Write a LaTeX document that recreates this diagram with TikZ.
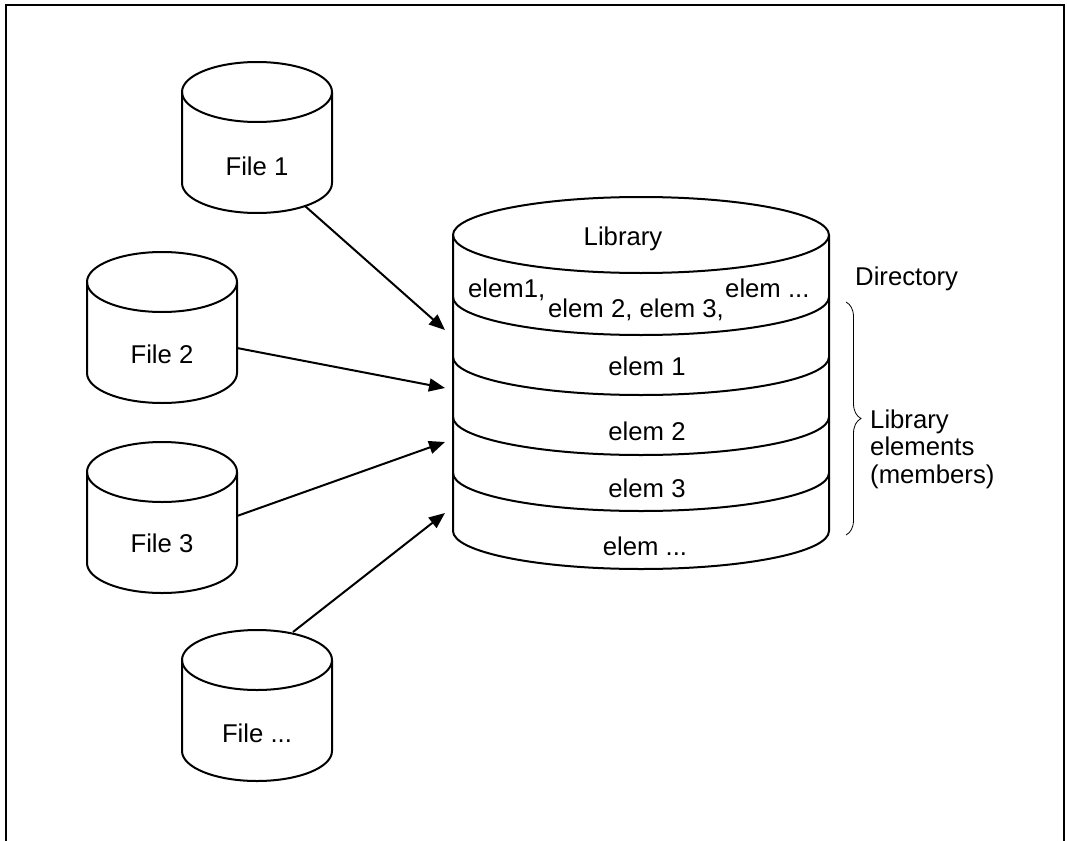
\documentclass[tikz,border=0pt]{standalone}
\usepackage{fontspec}
\setmainfont{Liberation Sans}
\usetikzlibrary{arrows.meta,decorations.pathreplacing}

\begin{document}
\begin{tikzpicture}[x=1pt,y=-1pt,
  outline/.style={line width=2pt, line join=round},
  link/.style={line width=2pt, -{Triangle[length=16pt,width=13pt]}},
  lbl/.style={font=\fontsize{25.7}{27.5}\selectfont, inner sep=0pt},
  % a small disk: top ellipse centred on the pic origin
  pics/disk/.style={code={
    \draw[outline] (-75,0) -- (-75,91)
      arc[start angle=180,end angle=0,x radius=75,y radius=30] -- (75,0);
    \draw[outline] (0,0) ellipse[x radius=75,y radius=30];
  }}]

\useasboundingbox (0,0) rectangle (1067,840);

% frame
\draw[line width=2pt] (5.5,845) -- (5.5,5.5) -- (1063.5,5.5) -- (1063.5,845);

% input files
\pic at (257,92)  {disk};
\pic at (162,282) {disk};
\pic at (162,472) {disk};
\pic at (257,660) {disk};
\node[lbl, anchor=base] (file1) at (257,175) {File 1};
\node[lbl, anchor=base] (file2) at (162,363) {File 2};
\node[lbl, anchor=base] (file3) at (162,552) {File 3};
\node[lbl, anchor=base] (filen) at (257,742) {File ...};

% library cylinder with its bands
\draw[outline] (453,235) -- (453,531)
  arc[start angle=180,end angle=0,x radius=188,y radius=38] -- (829,235);
\draw[outline] (641,235) ellipse[x radius=188,y radius=38];
\foreach \yy in {297,357,417,473}
  \draw[outline] (453,\yy) arc[start angle=180,end angle=0,x radius=188,y radius=38];

\node[lbl, anchor=base] (lib) at (623,245) {Library};
\node[lbl, anchor=base west] (dir1) at (468,297) {elem1,};
\node[lbl, anchor=base west] (dir2) at (548,317) {elem 2, elem 3,};
\node[lbl, anchor=base west] (dir3) at (725,297) {elem ...};
\node[lbl, anchor=base] (m1) at (647,375) {elem 1};
\node[lbl, anchor=base] (m2) at (647,440) {elem 2};
\node[lbl, anchor=base] (m3) at (647,497) {elem 3};
\node[lbl, anchor=base] (mn) at (645,555) {elem ...};

% annotations
\node[lbl, anchor=base west] (dirlbl) at (855,285) {Directory};
\draw[line width=0.8pt, decorate, decoration={brace, amplitude=15pt}]
  (846,302) coordinate (bt) -- (846,535) coordinate (bb);
\node[lbl, anchor=west, align=left] (memlbl) at (870,449)
  {Library\\elements\\(members)};

% connectors from the files into the library
\coordinate (s1) at (305,206);
\coordinate (s2) at (237,348);
\coordinate (s3) at (237,516);
\coordinate (s4) at (293,632);
\coordinate (e1) at (445,330);
\coordinate (e2) at (445,388);
\coordinate (e3) at (445,442);
\coordinate (e4) at (445,513);
\draw[link] (s1) -- (e1);
\draw[link] (s2) -- (e2);
\draw[link] (s3) -- (e3);
\draw[link] (s4) -- (e4);
\end{tikzpicture}
\end{document}
